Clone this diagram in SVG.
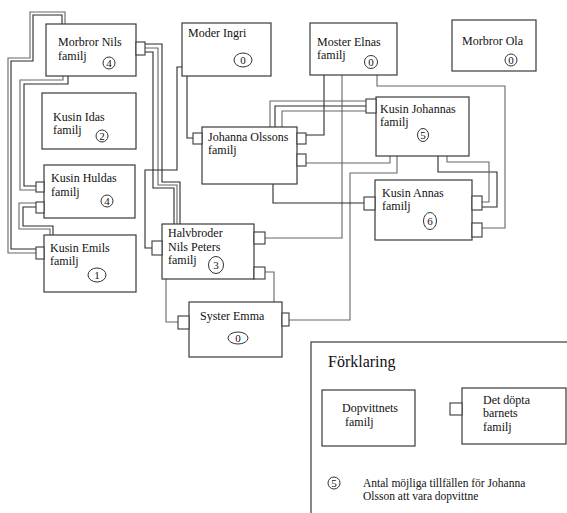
<svg xmlns="http://www.w3.org/2000/svg" width="567" height="513" viewBox="0 0 567 513" font-family="'Liberation Serif', 'DejaVu Serif', serif">
<style>
.box{fill:#fff;stroke:#3a3a3a;stroke-width:1.2}
.port{fill:#fff;stroke:#3a3a3a;stroke-width:1.1}
.ln{fill:none;stroke:#2a2a2a;stroke-width:1.1}
.lg{fill:none;stroke:#666;stroke-width:1.1}
.c{fill:#fff;stroke:#333;stroke-width:1}
text{font-family:'Liberation Serif','DejaVu Serif',serif;font-size:12px;fill:#111}
.n{font-size:11px;text-anchor:middle}
</style>
<rect width="567" height="513" fill="#fff"/>
<g id="connectors">
<polyline class="lg" points="65,24 65,12 30,12 30,58 8,58 8,253 36,253"/>
<polyline class="ln" points="62,24 62,15 33,15 33,61 11,61 11,249 36,249"/>
<polyline class="lg" points="63,76 63,80 20,80 20,190 36,190"/>
<polyline class="ln" points="68,76 68,84 24,84 24,186 36,186"/>
<polyline class="ln" points="53,235 53,226 23,226 23,207 36,207"/>
<polyline class="lg" points="50,235 50,229 19,229 19,203 36,203"/>
<polyline class="ln" points="145,44 162,44 162,182 180,182 180,224"/>
<polyline class="lg" points="145,48 158,48 158,185 177,185 177,224"/>
<polyline class="ln" points="145,52 153,52 153,188 174,188 174,224"/>
<polyline class="ln" points="182,67 177,67 177,170 145,170 145,248 152,248"/>
<polyline class="ln" points="187,76 187,138 193,138"/>
<polyline class="ln" points="324,75 324,135 306,135"/>
<polyline class="lg" points="306,163 390,163 390,156"/>
<polyline class="lg" points="270,127 270,101 366,101"/>
<polyline class="ln" points="275,127 275,106 366,106"/>
<polyline class="lg" points="282,127 282,111 366,111"/>
<polyline class="lg" points="342,75 342,238 265,238"/>
<polyline class="lg" points="274,302 274,272 265,272"/>
<polyline class="lg" points="166,279 166,322 178,322"/>
<polyline class="lg" points="397,156 397,173 350,173 350,320 289,320"/>
<polyline class="ln" points="273,184 273,203 364,203"/>
<polyline class="ln" points="438,156 438,172 497,172 497,207 482,207"/>
<polyline class="lg" points="447,156 447,162 489,162 489,202 482,202"/>
<polyline class="lg" points="377,75 377,86 505,86 505,228 482,228"/>
<polyline class="lg" points="415,409 450,409"/>
</g>
<g id="morbror-nils">
<rect class="box" x="46" y="24" width="90" height="52"/>
<rect class="port" x="136" y="42" width="9" height="13"/>
<text x="58" y="46">Morbror Nils</text><text x="58" y="60">familj</text>
<circle class="c" cx="109" cy="63" r="6"/><text class="n" x="109" y="67">4</text>
</g>
<g id="kusin-idas">
<rect class="box" x="42" y="93" width="94" height="56"/>
<text x="53" y="121">Kusin Idas</text><text x="53" y="134">familj</text>
<circle class="c" cx="102" cy="136" r="6"/><text class="n" x="102" y="140">2</text>
</g>
<g id="kusin-huldas">
<rect class="box" x="44" y="165" width="91" height="53"/>
<rect class="port" x="36" y="182" width="8" height="10"/>
<rect class="port" x="36" y="202" width="8" height="11"/>
<text x="51" y="182">Kusin Huldas</text><text x="51" y="196">familj</text>
<circle class="c" cx="107" cy="201" r="6"/><text class="n" x="107" y="205">4</text>
</g>
<g id="kusin-emils">
<rect class="box" x="44" y="235" width="92" height="57"/>
<rect class="port" x="36" y="247" width="8" height="12"/>
<text x="50" y="252">Kusin Emils</text><text x="50" y="265">familj</text>
<ellipse class="c" cx="97" cy="275" rx="9" ry="7"/><text class="n" x="97" y="279">1</text>
</g>
<g id="moder-ingri">
<rect class="box" x="182" y="23" width="89" height="53"/>
<text x="188" y="37">Moder Ingri</text>
<ellipse class="c" cx="243" cy="60" rx="9" ry="7"/><text class="n" x="243" y="64">0</text>
</g>
<g id="moster-elnas">
<rect class="box" x="310" y="23" width="87" height="52"/>
<text x="317" y="46">Moster Elnas</text><text x="317" y="59">familj</text>
<circle class="c" cx="371" cy="62" r="6.5"/><text class="n" x="371" y="66">0</text>
</g>
<g id="morbror-ola">
<rect class="box" x="452" y="20" width="84" height="51"/>
<text x="462" y="45">Morbror Ola</text>
<circle class="c" cx="511" cy="60" r="6"/><text class="n" x="511" y="64">0</text>
</g>
<g id="johanna-olsson">
<rect class="box" x="202" y="127" width="95" height="57"/>
<rect class="port" x="193" y="133" width="9" height="11"/>
<rect class="port" x="297" y="133" width="9" height="11"/>
<rect class="port" x="297" y="154" width="9" height="12"/>
<text x="208" y="141">Johanna Olssons</text><text x="208" y="154">familj</text>
</g>
<g id="kusin-johannas">
<rect class="box" x="376" y="97" width="93" height="59"/>
<rect class="port" x="366" y="99" width="10" height="14"/>
<text x="380" y="113">Kusin Johannas</text><text x="380" y="126">familj</text>
<ellipse class="c" cx="423" cy="135" rx="5.5" ry="6.5"/><text class="n" x="423" y="139">5</text>
</g>
<g id="kusin-annas">
<rect class="box" x="375" y="180" width="97" height="60"/>
<rect class="port" x="364" y="197" width="11" height="13"/>
<rect class="port" x="472" y="196" width="10" height="14"/>
<rect class="port" x="472" y="223" width="10" height="14"/>
<text x="382" y="197">Kusin Annas</text><text x="382" y="210">familj</text>
<ellipse class="c" cx="430" cy="221" rx="6.5" ry="8.5"/><text class="n" x="430" y="225">6</text>
</g>
<g id="halvbroder-nils-peter">
<rect class="box" x="162" y="224" width="92" height="55"/>
<rect class="port" x="152" y="241" width="10" height="14"/>
<rect class="port" x="254" y="232" width="11" height="12"/>
<rect class="port" x="254" y="267" width="11" height="12"/>
<text x="168" y="237">Halvbroder</text><text x="168" y="251">Nils Peters</text><text x="168" y="264">familj</text>
<ellipse class="c" cx="216" cy="265" rx="7.5" ry="8.5"/><text class="n" x="216" y="269">3</text>
</g>
<g id="syster-emma">
<rect class="box" x="189" y="302" width="93" height="55"/>
<rect class="port" x="178" y="316" width="11" height="13"/>
<rect class="port" x="282" y="313" width="7" height="13"/>
<text x="200" y="320">Syster Emma</text>
<ellipse class="c" cx="238" cy="338" rx="10" ry="6"/><text class="n" x="238" y="342">0</text>
</g>
<g id="legend">
<rect class="box" x="311" y="342" width="262" height="180"/>
<text x="328" y="367" style="font-size:16px">Förklaring</text>
<rect class="box" x="322" y="390" width="93" height="56"/>
<text x="342" y="412">Dopvittnets</text><text x="345" y="426">familj</text>
<rect class="box" x="462" y="388" width="104" height="56"/>
<rect class="port" x="450" y="403" width="12" height="12"/>
<text x="483" y="404">Det döpta</text><text x="483" y="417">barnets</text><text x="483" y="431">familj</text>
<circle class="c" cx="334" cy="483" r="6"/><text class="n" x="334" y="487">5</text>
<text x="363" y="487" style="font-size:11.5px">Antal möjliga tillfällen för Johanna</text>
<text x="363" y="500" style="font-size:11.5px">Olsson att vara dopvittne</text>
</g>
</svg>
